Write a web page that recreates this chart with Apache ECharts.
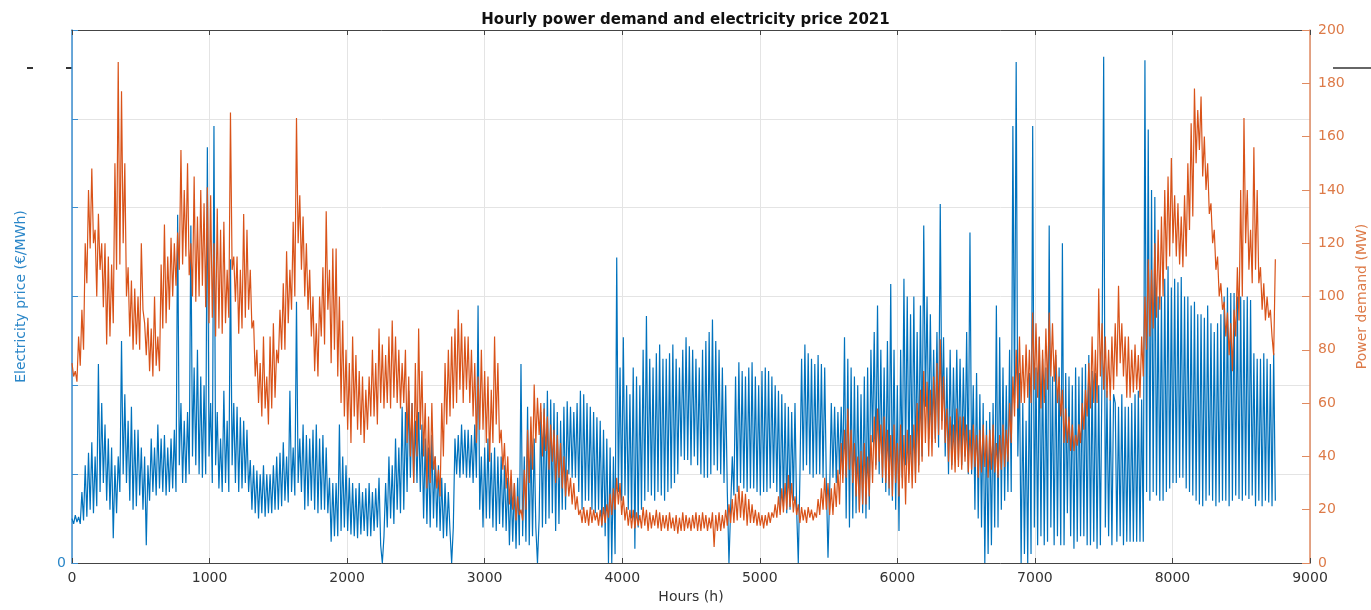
<!DOCTYPE html>
<html>
<head>
<meta charset="utf-8">
<script src="https://cdn.jsdelivr.net/npm/echarts@6/dist/echarts.min.js"></script>
<style>
html,body{margin:0;padding:0;background:#fff;}
#chart{width:1371px;height:610px;}
</style>
</head>
<body>
<div id="chart"></div>
<script>
// Hours between successive readings (alternating daytime high / night-time low)
const hourStep = 12;
const xTicks = [0, 1000, 2000, 3000, 4000, 5000, 6000, 7000, 8000, 9000];
const demandTicks = [0, 20, 40, 60, 80, 100, 120, 140, 160, 180, 200];

// Power demand (MW)
const demandMW = [
  75,70,72,68,85,74,95,80,120,105,140,118,148,120,125,100,131,110,120,96,
  120,82,115,85,112,90,150,110,188,112,177,120,150,100,111,85,106,80,103,82,
  100,80,120,95,90,78,92,72,88,70,100,74,85,72,112,88,127,90,115,95,
  122,100,120,104,124,110,155,112,140,115,150,108,120,100,145,98,130,100,140,104,
  135,96,141,90,138,92,120,85,133,88,125,86,128,90,110,92,169,110,115,98,
  115,86,110,88,131,92,125,95,110,88,91,70,80,60,75,55,85,58,70,52,
  85,58,90,62,80,75,95,80,105,80,117,90,110,95,128,100,167,120,138,110,
  130,100,120,95,110,85,100,72,90,70,100,85,111,82,132,95,110,75,118,80,
  118,70,100,60,91,55,80,50,75,45,85,55,78,50,72,48,70,45,65,50,
  70,55,80,55,75,52,88,60,82,58,78,60,85,58,91,62,85,60,80,58,
  75,60,80,45,70,40,60,30,75,40,88,50,72,40,60,28,55,30,60,35,
  40,28,35,25,60,40,75,52,80,55,85,58,88,60,95,65,90,60,85,65,
  85,60,80,55,75,45,70,50,80,50,72,45,70,38,65,45,85,52,75,45,
  50,35,45,28,40,22,35,20,30,16,25,18,20,16,35,20,50,30,55,35,
  67,45,62,48,60,40,58,42,55,35,52,38,50,30,48,32,45,28,40,25,
  35,25,32,22,30,20,25,18,20,15,21,15,20,14,21,15,20,16,19,14,
  20,14,21,15,22,17,26,18,28,20,32,22,30,18,25,16,21,14,20,13,
  20,13,19,14,18,13,21,14,20,12,19,13,18,14,20,13,19,12,18,13,
  18,12,19,13,17,12,18,11,17,12,19,12,18,13,17,12,18,13,19,12,
  18,12,19,13,18,12,17,13,19,6,18,12,19,12,18,13,20,14,22,15,
  24,15,26,16,29,17,27,16,26,14,24,15,22,15,20,14,19,14,18,13,
  18,14,19,15,19,17,22,17,25,18,28,19,30,20,33,21,30,19,25,18,
  22,15,21,16,20,15,21,17,20,16,19,17,24,18,28,20,32,20,30,18,
  28,18,30,21,35,22,45,30,50,32,58,35,50,30,45,25,40,19,42,22,
  45,22,40,25,48,30,55,35,58,38,52,32,55,30,50,28,48,25,52,30,
  45,25,52,28,48,22,50,30,48,28,52,30,60,34,65,38,72,45,68,40,
  65,40,70,45,75,48,84,50,70,45,58,38,55,35,52,34,58,36,55,35,
  55,38,52,34,50,35,52,36,48,32,50,34,52,36,48,32,50,35,52,34,
  45,32,48,35,52,36,50,38,60,45,70,55,80,58,85,60,78,60,82,62,
  80,60,94,65,90,62,85,58,80,60,88,65,94,70,90,68,80,60,70,55,
  65,45,58,45,55,42,52,42,48,44,52,45,60,50,65,55,75,58,85,60,
  80,60,103,70,90,65,85,62,80,61,85,65,90,70,104,75,90,70,85,62,
  85,62,80,64,82,65,78,62,85,70,100,80,114,85,110,88,120,92,125,95,
  130,100,140,110,145,115,152,120,138,115,135,112,130,111,138,115,150,125,165,130,
  178,150,170,155,175,145,160,140,150,131,135,120,125,110,115,100,105,95,98,85,
  94,78,90,72,95,85,111,91,140,100,167,120,140,110,125,105,156,110,140,105,
  111,95,105,91,100,92,95,85,78,114
];

// Electricity price (EUR/MWh)
const priceEUR = [
  25,22,27,23,26,22,40,24,55,26,62,30,68,28,60,32,112,40,90,45,
  78,35,70,30,65,14,55,28,60,40,125,50,95,45,80,35,88,30,75,32,
  75,38,65,30,60,10,55,35,70,40,65,38,78,42,70,40,72,38,65,40,
  70,42,75,40,196,55,90,45,80,45,85,50,190,60,110,55,120,50,105,48,
  100,50,234,60,90,45,246,55,85,42,70,40,97,45,80,40,171,55,90,45,
  88,40,82,42,80,45,75,40,58,30,55,28,52,25,50,28,55,26,50,28,
  50,28,55,30,60,30,62,32,68,35,60,34,97,40,65,38,147,45,70,40,
  78,30,72,32,70,35,75,30,78,28,70,30,72,30,65,28,48,12,45,15,
  45,15,78,18,60,20,55,18,48,16,45,15,42,14,45,16,40,18,42,15,
  45,15,40,18,42,20,48,10,0,15,45,20,60,25,55,22,70,30,65,28,
  88,30,85,40,97,48,90,45,80,45,85,40,78,25,70,22,65,20,72,25,
  60,20,55,18,48,14,45,15,40,18,0,20,70,50,72,48,78,50,75,48,
  75,48,72,45,78,48,145,30,60,20,65,25,70,25,62,20,65,18,60,22,
  60,20,55,18,48,10,45,12,45,8,48,10,112,15,60,12,88,10,70,15,
  70,20,0,25,85,20,90,22,97,25,92,28,90,18,85,22,80,30,88,30,
  91,50,88,48,85,48,90,40,97,30,95,35,90,35,88,30,85,28,82,30,
  80,20,75,15,70,0,65,0,60,5,172,40,110,35,127,38,100,30,95,25,
  110,8,105,20,100,30,120,35,139,40,115,38,110,35,118,40,123,38,115,35,
  115,40,118,42,123,45,115,50,110,60,120,58,127,58,122,55,120,60,115,55,
  110,50,120,48,125,48,130,50,137,55,125,52,120,50,110,45,100,40,0,30,
  60,38,105,40,113,45,108,42,105,40,110,42,113,42,105,40,100,38,108,40,
  110,40,108,42,105,45,100,40,97,30,95,32,90,28,88,30,85,35,90,30,
  0,50,115,52,123,55,118,50,115,48,112,50,117,50,112,48,110,45,3,40,
  90,48,88,45,85,50,88,50,127,25,115,20,110,25,105,28,100,30,95,28,
  105,25,110,30,120,68,130,55,145,50,120,45,110,40,125,38,157,35,120,30,
  100,18,120,48,160,55,150,50,140,52,150,50,130,55,145,60,190,88,150,70,
  140,68,120,70,130,65,202,80,127,60,110,50,120,55,110,60,120,58,115,55,
  110,60,130,50,186,50,100,30,107,25,95,20,90,0,80,5,85,10,90,20,
  145,20,127,30,110,35,100,40,120,40,246,90,282,60,107,0,90,5,80,0,
  107,5,246,20,110,10,127,15,115,10,110,12,190,20,105,10,117,15,110,10,
  180,10,107,28,105,15,100,8,110,12,105,15,110,15,112,10,117,10,108,12,
  107,8,100,10,110,285,20,97,15,92,10,95,90,12,88,15,95,10,88,12,
  88,12,90,12,95,12,97,12,92,12,283,40,244,35,210,40,206,38,150,35,
  150,35,160,40,167,42,155,45,160,45,158,48,161,48,150,42,150,40,145,38,
  147,35,140,33,140,32,138,35,145,38,135,35,130,32,135,34,140,35,150,35,
  155,32,152,35,152,38,150,36,150,35,148,38,150,36,148,38,118,32,115,35,
  115,32,118,35,115,34,112,32,118,35
];

const BLUE = '#0072BD';
const ORANGE = '#D95319';
const FONT = '"DejaVu Sans", Verdana, sans-serif';

const demandData = demandMW.map((v, i) => [i * hourStep, v]);
const priceData = priceEUR.map((v, i) => [i * hourStep, v]);

const chart = echarts.init(document.getElementById('chart'));
chart.setOption({
  animation: false,
  backgroundColor: '#ffffff',
  title: {
    text: 'Hourly power demand and electricity price 2021',
    left: 'center', top: 8,
    textStyle: { fontFamily: FONT, fontSize: 15, fontWeight: 'bold', color: '#111' }
  },
  grid: { left: 72, right: 61, top: 30, bottom: 47, show: false, containLabel: false, outerBoundsMode: 'none' },
  xAxis: [{
    type: 'value', min: xTicks[0], max: xTicks[xTicks.length - 1], interval: 1000,
    name: 'Hours (h)', nameLocation: 'middle', nameGap: 27,
    nameTextStyle: { fontFamily: FONT, fontSize: 14, color: '#333' },
    axisLine: { show: true, onZero: false, lineStyle: { color: '#444', width: 1 } },
    axisTick: { show: true, inside: true, length: 5, lineStyle: { color: '#444' } },
    axisLabel: { fontFamily: FONT, fontSize: 14, color: '#333', margin: 8,
      formatter: v => String(v) },
    splitLine: { show: true, lineStyle: { color: '#e4e4e4', width: 1 } }
  }, {
    type: 'value', position: 'top', min: 0, max: 9000, interval: 1000,
    axisLine: { show: true, onZero: false, lineStyle: { color: '#444', width: 1 } },
    axisTick: { show: true, inside: true, length: 5, lineStyle: { color: '#444' } },
    axisLabel: { show: false },
    splitLine: { show: false }
  }],
  yAxis: [{
    type: 'value', position: 'left', min: 0, max: 300, interval: 50,
    name: 'Electricity price (€/MWh)', nameLocation: 'middle', nameGap: 44, nameRotate: 90,
    nameTextStyle: { fontFamily: FONT, fontSize: 14, color: '#2a86c8' },
    axisLine: { show: true, onZero: false, lineStyle: { color: '#3b8ed0', width: 1.5 } },
    axisTick: { show: true, inside: true, length: 6, lineStyle: { color: '#3b8ed0' } },
    axisLabel: { fontFamily: FONT, fontSize: 14, color: '#2a86c8', margin: 6,
      formatter: v => (v === 0 ? '0' : '') },
    splitLine: { show: true, lineStyle: { color: '#e4e4e4', width: 1 } }
  }, {
    type: 'value', position: 'right', min: demandTicks[0], max: demandTicks[demandTicks.length - 1], interval: 20,
    name: 'Power demand (MW)', nameLocation: 'middle', nameGap: 40, nameRotate: 90,
    nameTextStyle: { fontFamily: FONT, fontSize: 14, color: '#dd7a48' },
    axisLine: { show: true, onZero: false, lineStyle: { color: '#e08a60', width: 1.5 } },
    axisTick: { show: true, inside: true, length: 8, lineStyle: { color: '#e08a60' } },
    axisLabel: { fontFamily: FONT, fontSize: 14, color: '#dd7a48', margin: 8 },
    splitLine: { show: false }
  }],
  graphic: [
    { type: 'line', shape: { x1: 1333, y1: 68, x2: 1371, y2: 68 }, style: { stroke: '#333', lineWidth: 1.5 } },
    { type: 'line', shape: { x1: 27, y1: 68, x2: 33, y2: 68 }, style: { stroke: '#333', lineWidth: 2 } },
    { type: 'line', shape: { x1: 66, y1: 68, x2: 72, y2: 68 }, style: { stroke: '#333', lineWidth: 2 } }
  ],
  series: [{
    name: 'Electricity price', type: 'line', xAxisIndex: 0, yAxisIndex: 0,
    data: priceData, showSymbol: false, symbol: 'none', sampling: false,
    lineStyle: { color: BLUE, width: 1.2 }, z: 2
  }, {
    name: 'Power demand', type: 'line', xAxisIndex: 0, yAxisIndex: 1,
    data: demandData, showSymbol: false, symbol: 'none', sampling: false,
    lineStyle: { color: ORANGE, width: 1.2 }, z: 3
  }]
});
</script>
</body>
</html>
